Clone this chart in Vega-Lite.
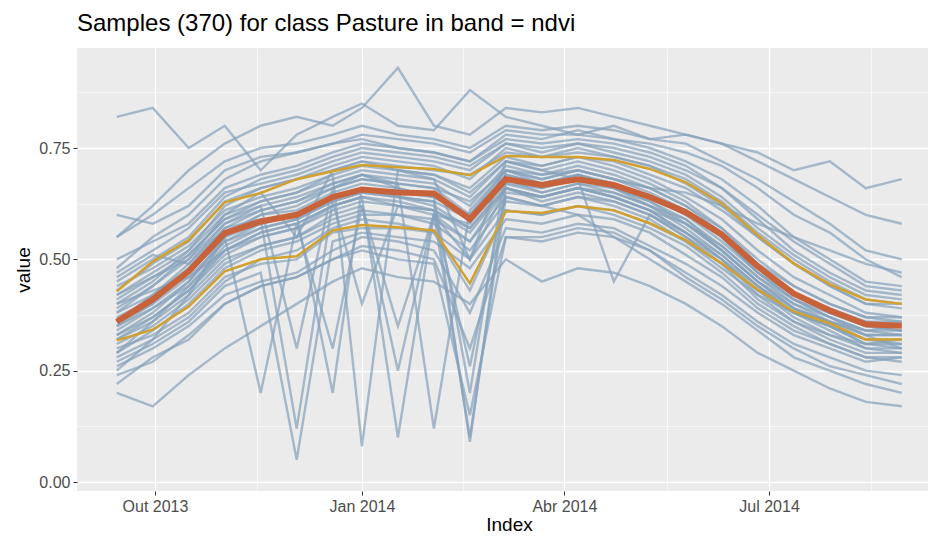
{
"$schema": "https://vega.github.io/schema/vega-lite/v6.json",
"width": 851, "height": 443,
"autosize": {"type": "none"},
"padding": {"left": 77, "top": 48, "right": 0, "bottom": 45},
"background": "white",
"title": {"text": "Samples (370) for class Pasture in band = ndvi", "anchor": "start", "frame": "group", "font": "Liberation Sans", "fontSize": 24, "fontWeight": "normal", "color": "black", "offset": 12},
"config": {
  "view": {"fill": "#EBEBEB", "stroke": null},
  "axis": {"labelFont": "Liberation Sans", "titleFont": "Liberation Sans", "labelColor": "#4D4D4D", "labelFontSize": 16, "tickColor": "#333333", "tickSize": 4, "tickWidth": 1, "gridColor": "white", "domain": false, "titleFontWeight": "normal", "titleColor": "black", "titleFontSize": 19, "labelPadding": 3}
},
"datasets": {
"stats": [
{"d":"2013-09-14","lo":0.318,"med":0.36,"hi":0.428},
{"d":"2013-09-30","lo":0.342,"med":0.41,"hi":0.495},
{"d":"2013-10-16","lo":0.394,"med":0.473,"hi":0.543},
{"d":"2013-11-01","lo":0.473,"med":0.559,"hi":0.628},
{"d":"2013-11-17","lo":0.5,"med":0.585,"hi":0.649},
{"d":"2013-12-03","lo":0.507,"med":0.6,"hi":0.68},
{"d":"2013-12-19","lo":0.565,"med":0.64,"hi":0.698},
{"d":"2014-01-01","lo":0.577,"med":0.657,"hi":0.712},
{"d":"2014-01-17","lo":0.572,"med":0.65,"hi":0.707},
{"d":"2014-02-02","lo":0.565,"med":0.648,"hi":0.703},
{"d":"2014-02-18","lo":0.446,"med":0.59,"hi":0.689},
{"d":"2014-03-06","lo":0.608,"med":0.68,"hi":0.732},
{"d":"2014-03-22","lo":0.604,"med":0.667,"hi":0.73},
{"d":"2014-04-07","lo":0.619,"med":0.68,"hi":0.73},
{"d":"2014-04-23","lo":0.61,"med":0.667,"hi":0.723},
{"d":"2014-05-09","lo":0.581,"med":0.64,"hi":0.703},
{"d":"2014-05-25","lo":0.543,"med":0.606,"hi":0.673},
{"d":"2014-06-10","lo":0.491,"med":0.556,"hi":0.626},
{"d":"2014-06-26","lo":0.432,"med":0.484,"hi":0.554},
{"d":"2014-07-12","lo":0.383,"med":0.423,"hi":0.491},
{"d":"2014-07-28","lo":0.356,"med":0.385,"hi":0.444},
{"d":"2014-08-13","lo":0.32,"med":0.354,"hi":0.41},
{"d":"2014-08-29","lo":0.32,"med":0.351,"hi":0.4}
],
"samples": [
{"s":1,"d":"2013-09-14","v":0.33},{"s":1,"d":"2013-09-30","v":0.38},{"s":1,"d":"2013-10-16","v":0.45},{"s":1,"d":"2013-11-01","v":0.55},{"s":1,"d":"2013-11-17","v":0.6},{"s":1,"d":"2013-12-03","v":0.62},{"s":1,"d":"2013-12-19","v":0.66},{"s":1,"d":"2014-01-01","v":0.68},{"s":1,"d":"2014-01-17","v":0.67},{"s":1,"d":"2014-02-02","v":0.66},{"s":1,"d":"2014-02-18","v":0.6},{"s":1,"d":"2014-03-06","v":0.7},{"s":1,"d":"2014-03-22","v":0.69},{"s":1,"d":"2014-04-07","v":0.7},{"s":1,"d":"2014-04-23","v":0.68},{"s":1,"d":"2014-05-09","v":0.66},{"s":1,"d":"2014-05-25","v":0.62},{"s":1,"d":"2014-06-10","v":0.57},{"s":1,"d":"2014-06-26","v":0.49},{"s":1,"d":"2014-07-12","v":0.42},{"s":1,"d":"2014-07-28","v":0.38},{"s":1,"d":"2014-08-13","v":0.35},{"s":1,"d":"2014-08-29","v":0.34},
{"s":2,"d":"2013-09-14","v":0.42},{"s":2,"d":"2013-09-30","v":0.47},{"s":2,"d":"2013-10-16","v":0.52},{"s":2,"d":"2013-11-01","v":0.62},{"s":2,"d":"2013-11-17","v":0.66},{"s":2,"d":"2013-12-03","v":0.68},{"s":2,"d":"2013-12-19","v":0.7},{"s":2,"d":"2014-01-01","v":0.72},{"s":2,"d":"2014-01-17","v":0.71},{"s":2,"d":"2014-02-02","v":0.7},{"s":2,"d":"2014-02-18","v":0.69},{"s":2,"d":"2014-03-06","v":0.74},{"s":2,"d":"2014-03-22","v":0.73},{"s":2,"d":"2014-04-07","v":0.74},{"s":2,"d":"2014-04-23","v":0.73},{"s":2,"d":"2014-05-09","v":0.71},{"s":2,"d":"2014-05-25","v":0.68},{"s":2,"d":"2014-06-10","v":0.63},{"s":2,"d":"2014-06-26","v":0.56},{"s":2,"d":"2014-07-12","v":0.5},{"s":2,"d":"2014-07-28","v":0.45},{"s":2,"d":"2014-08-13","v":0.41},{"s":2,"d":"2014-08-29","v":0.4},
{"s":3,"d":"2013-09-14","v":0.3},{"s":3,"d":"2013-09-30","v":0.33},{"s":3,"d":"2013-10-16","v":0.38},{"s":3,"d":"2013-11-01","v":0.46},{"s":3,"d":"2013-11-17","v":0.49},{"s":3,"d":"2013-12-03","v":0.5},{"s":3,"d":"2013-12-19","v":0.56},{"s":3,"d":"2014-01-01","v":0.57},{"s":3,"d":"2014-01-17","v":0.57},{"s":3,"d":"2014-02-02","v":0.56},{"s":3,"d":"2014-02-18","v":0.43},{"s":3,"d":"2014-03-06","v":0.61},{"s":3,"d":"2014-03-22","v":0.6},{"s":3,"d":"2014-04-07","v":0.62},{"s":3,"d":"2014-04-23","v":0.61},{"s":3,"d":"2014-05-09","v":0.58},{"s":3,"d":"2014-05-25","v":0.54},{"s":3,"d":"2014-06-10","v":0.49},{"s":3,"d":"2014-06-26","v":0.43},{"s":3,"d":"2014-07-12","v":0.38},{"s":3,"d":"2014-07-28","v":0.35},{"s":3,"d":"2014-08-13","v":0.31},{"s":3,"d":"2014-08-29","v":0.32},
{"s":4,"d":"2013-09-14","v":0.38},{"s":4,"d":"2013-09-30","v":0.44},{"s":4,"d":"2013-10-16","v":0.5},{"s":4,"d":"2013-11-01","v":0.58},{"s":4,"d":"2013-11-17","v":0.62},{"s":4,"d":"2013-12-03","v":0.3},{"s":4,"d":"2013-12-19","v":0.66},{"s":4,"d":"2014-01-01","v":0.69},{"s":4,"d":"2014-01-17","v":0.66},{"s":4,"d":"2014-02-02","v":0.64},{"s":4,"d":"2014-02-18","v":0.2},{"s":4,"d":"2014-03-06","v":0.7},{"s":4,"d":"2014-03-22","v":0.67},{"s":4,"d":"2014-04-07","v":0.69},{"s":4,"d":"2014-04-23","v":0.66},{"s":4,"d":"2014-05-09","v":0.64},{"s":4,"d":"2014-05-25","v":0.6},{"s":4,"d":"2014-06-10","v":0.55},{"s":4,"d":"2014-06-26","v":0.47},{"s":4,"d":"2014-07-12","v":0.41},{"s":4,"d":"2014-07-28","v":0.37},{"s":4,"d":"2014-08-13","v":0.33},{"s":4,"d":"2014-08-29","v":0.33},
{"s":5,"d":"2013-09-14","v":0.48},{"s":5,"d":"2013-09-30","v":0.55},{"s":5,"d":"2013-10-16","v":0.6},{"s":5,"d":"2013-11-01","v":0.68},{"s":5,"d":"2013-11-17","v":0.72},{"s":5,"d":"2013-12-03","v":0.74},{"s":5,"d":"2013-12-19","v":0.76},{"s":5,"d":"2014-01-01","v":0.77},{"s":5,"d":"2014-01-17","v":0.75},{"s":5,"d":"2014-02-02","v":0.74},{"s":5,"d":"2014-02-18","v":0.72},{"s":5,"d":"2014-03-06","v":0.78},{"s":5,"d":"2014-03-22","v":0.77},{"s":5,"d":"2014-04-07","v":0.79},{"s":5,"d":"2014-04-23","v":0.77},{"s":5,"d":"2014-05-09","v":0.75},{"s":5,"d":"2014-05-25","v":0.72},{"s":5,"d":"2014-06-10","v":0.68},{"s":5,"d":"2014-06-26","v":0.62},{"s":5,"d":"2014-07-12","v":0.55},{"s":5,"d":"2014-07-28","v":0.5},{"s":5,"d":"2014-08-13","v":0.45},{"s":5,"d":"2014-08-29","v":0.44},
{"s":6,"d":"2013-09-14","v":0.26},{"s":6,"d":"2013-09-30","v":0.3},{"s":6,"d":"2013-10-16","v":0.35},{"s":6,"d":"2013-11-01","v":0.42},{"s":6,"d":"2013-11-17","v":0.45},{"s":6,"d":"2013-12-03","v":0.47},{"s":6,"d":"2013-12-19","v":0.52},{"s":6,"d":"2014-01-01","v":0.55},{"s":6,"d":"2014-01-17","v":0.54},{"s":6,"d":"2014-02-02","v":0.52},{"s":6,"d":"2014-02-18","v":0.38},{"s":6,"d":"2014-03-06","v":0.57},{"s":6,"d":"2014-03-22","v":0.56},{"s":6,"d":"2014-04-07","v":0.58},{"s":6,"d":"2014-04-23","v":0.57},{"s":6,"d":"2014-05-09","v":0.53},{"s":6,"d":"2014-05-25","v":0.49},{"s":6,"d":"2014-06-10","v":0.44},{"s":6,"d":"2014-06-26","v":0.38},{"s":6,"d":"2014-07-12","v":0.33},{"s":6,"d":"2014-07-28","v":0.3},{"s":6,"d":"2014-08-13","v":0.27},{"s":6,"d":"2014-08-29","v":0.28},
{"s":7,"d":"2013-09-14","v":0.35},{"s":7,"d":"2013-09-30","v":0.4},{"s":7,"d":"2013-10-16","v":0.48},{"s":7,"d":"2013-11-01","v":0.57},{"s":7,"d":"2013-11-17","v":0.59},{"s":7,"d":"2013-12-03","v":0.12},{"s":7,"d":"2013-12-19","v":0.63},{"s":7,"d":"2014-01-01","v":0.4},{"s":7,"d":"2014-01-17","v":0.62},{"s":7,"d":"2014-02-02","v":0.6},{"s":7,"d":"2014-02-18","v":0.58},{"s":7,"d":"2014-03-06","v":0.68},{"s":7,"d":"2014-03-22","v":0.65},{"s":7,"d":"2014-04-07","v":0.67},{"s":7,"d":"2014-04-23","v":0.66},{"s":7,"d":"2014-05-09","v":0.62},{"s":7,"d":"2014-05-25","v":0.59},{"s":7,"d":"2014-06-10","v":0.52},{"s":7,"d":"2014-06-26","v":0.45},{"s":7,"d":"2014-07-12","v":0.4},{"s":7,"d":"2014-07-28","v":0.36},{"s":7,"d":"2014-08-13","v":0.33},{"s":7,"d":"2014-08-29","v":0.3},
{"s":8,"d":"2013-09-14","v":0.55},{"s":8,"d":"2013-09-30","v":0.6},{"s":8,"d":"2013-10-16","v":0.66},{"s":8,"d":"2013-11-01","v":0.72},{"s":8,"d":"2013-11-17","v":0.75},{"s":8,"d":"2013-12-03","v":0.76},{"s":8,"d":"2013-12-19","v":0.78},{"s":8,"d":"2014-01-01","v":0.8},{"s":8,"d":"2014-01-17","v":0.78},{"s":8,"d":"2014-02-02","v":0.77},{"s":8,"d":"2014-02-18","v":0.75},{"s":8,"d":"2014-03-06","v":0.8},{"s":8,"d":"2014-03-22","v":0.79},{"s":8,"d":"2014-04-07","v":0.8},{"s":8,"d":"2014-04-23","v":0.79},{"s":8,"d":"2014-05-09","v":0.77},{"s":8,"d":"2014-05-25","v":0.76},{"s":8,"d":"2014-06-10","v":0.72},{"s":8,"d":"2014-06-26","v":0.68},{"s":8,"d":"2014-07-12","v":0.63},{"s":8,"d":"2014-07-28","v":0.58},{"s":8,"d":"2014-08-13","v":0.52},{"s":8,"d":"2014-08-29","v":0.5},
{"s":9,"d":"2013-09-14","v":0.22},{"s":9,"d":"2013-09-30","v":0.28},{"s":9,"d":"2013-10-16","v":0.32},{"s":9,"d":"2013-11-01","v":0.4},{"s":9,"d":"2013-11-17","v":0.44},{"s":9,"d":"2013-12-03","v":0.46},{"s":9,"d":"2013-12-19","v":0.5},{"s":9,"d":"2014-01-01","v":0.52},{"s":9,"d":"2014-01-17","v":0.5},{"s":9,"d":"2014-02-02","v":0.49},{"s":9,"d":"2014-02-18","v":0.15},{"s":9,"d":"2014-03-06","v":0.55},{"s":9,"d":"2014-03-22","v":0.54},{"s":9,"d":"2014-04-07","v":0.56},{"s":9,"d":"2014-04-23","v":0.55},{"s":9,"d":"2014-05-09","v":0.52},{"s":9,"d":"2014-05-25","v":0.46},{"s":9,"d":"2014-06-10","v":0.41},{"s":9,"d":"2014-06-26","v":0.35},{"s":9,"d":"2014-07-12","v":0.3},{"s":9,"d":"2014-07-28","v":0.26},{"s":9,"d":"2014-08-13","v":0.24},{"s":9,"d":"2014-08-29","v":0.22},
{"s":10,"d":"2013-09-14","v":0.4},{"s":10,"d":"2013-09-30","v":0.43},{"s":10,"d":"2013-10-16","v":0.46},{"s":10,"d":"2013-11-01","v":0.52},{"s":10,"d":"2013-11-17","v":0.56},{"s":10,"d":"2013-12-03","v":0.58},{"s":10,"d":"2013-12-19","v":0.62},{"s":10,"d":"2014-01-01","v":0.64},{"s":10,"d":"2014-01-17","v":0.62},{"s":10,"d":"2014-02-02","v":0.61},{"s":10,"d":"2014-02-18","v":0.57},{"s":10,"d":"2014-03-06","v":0.66},{"s":10,"d":"2014-03-22","v":0.64},{"s":10,"d":"2014-04-07","v":0.66},{"s":10,"d":"2014-04-23","v":0.64},{"s":10,"d":"2014-05-09","v":0.61},{"s":10,"d":"2014-05-25","v":0.58},{"s":10,"d":"2014-06-10","v":0.53},{"s":10,"d":"2014-06-26","v":0.46},{"s":10,"d":"2014-07-12","v":0.4},{"s":10,"d":"2014-07-28","v":0.37},{"s":10,"d":"2014-08-13","v":0.34},{"s":10,"d":"2014-08-29","v":0.35},
{"s":11,"d":"2013-09-14","v":0.32},{"s":11,"d":"2013-09-30","v":0.36},{"s":11,"d":"2013-10-16","v":0.42},{"s":11,"d":"2013-11-01","v":0.5},{"s":11,"d":"2013-11-17","v":0.53},{"s":11,"d":"2013-12-03","v":0.55},{"s":11,"d":"2013-12-19","v":0.6},{"s":11,"d":"2014-01-01","v":0.62},{"s":11,"d":"2014-01-17","v":0.35},{"s":11,"d":"2014-02-02","v":0.6},{"s":11,"d":"2014-02-18","v":0.5},{"s":11,"d":"2014-03-06","v":0.66},{"s":11,"d":"2014-03-22","v":0.64},{"s":11,"d":"2014-04-07","v":0.66},{"s":11,"d":"2014-04-23","v":0.65},{"s":11,"d":"2014-05-09","v":0.62},{"s":11,"d":"2014-05-25","v":0.57},{"s":11,"d":"2014-06-10","v":0.51},{"s":11,"d":"2014-06-26","v":0.44},{"s":11,"d":"2014-07-12","v":0.38},{"s":11,"d":"2014-07-28","v":0.34},{"s":11,"d":"2014-08-13","v":0.3},{"s":11,"d":"2014-08-29","v":0.29},
{"s":12,"d":"2013-09-14","v":0.45},{"s":12,"d":"2013-09-30","v":0.5},{"s":12,"d":"2013-10-16","v":0.55},{"s":12,"d":"2013-11-01","v":0.64},{"s":12,"d":"2013-11-17","v":0.68},{"s":12,"d":"2013-12-03","v":0.7},{"s":12,"d":"2013-12-19","v":0.73},{"s":12,"d":"2014-01-01","v":0.75},{"s":12,"d":"2014-01-17","v":0.74},{"s":12,"d":"2014-02-02","v":0.73},{"s":12,"d":"2014-02-18","v":0.71},{"s":12,"d":"2014-03-06","v":0.76},{"s":12,"d":"2014-03-22","v":0.75},{"s":12,"d":"2014-04-07","v":0.76},{"s":12,"d":"2014-04-23","v":0.75},{"s":12,"d":"2014-05-09","v":0.73},{"s":12,"d":"2014-05-25","v":0.7},{"s":12,"d":"2014-06-10","v":0.66},{"s":12,"d":"2014-06-26","v":0.6},{"s":12,"d":"2014-07-12","v":0.54},{"s":12,"d":"2014-07-28","v":0.49},{"s":12,"d":"2014-08-13","v":0.44},{"s":12,"d":"2014-08-29","v":0.43},
{"s":13,"d":"2013-09-14","v":0.37},{"s":13,"d":"2013-09-30","v":0.41},{"s":13,"d":"2013-10-16","v":0.47},{"s":13,"d":"2013-11-01","v":0.55},{"s":13,"d":"2013-11-17","v":0.58},{"s":13,"d":"2013-12-03","v":0.6},{"s":13,"d":"2013-12-19","v":0.2},{"s":13,"d":"2014-01-01","v":0.66},{"s":13,"d":"2014-01-17","v":0.64},{"s":13,"d":"2014-02-02","v":0.63},{"s":13,"d":"2014-02-18","v":0.59},{"s":13,"d":"2014-03-06","v":0.69},{"s":13,"d":"2014-03-22","v":0.67},{"s":13,"d":"2014-04-07","v":0.69},{"s":13,"d":"2014-04-23","v":0.67},{"s":13,"d":"2014-05-09","v":0.64},{"s":13,"d":"2014-05-25","v":0.6},{"s":13,"d":"2014-06-10","v":0.54},{"s":13,"d":"2014-06-26","v":0.47},{"s":13,"d":"2014-07-12","v":0.42},{"s":13,"d":"2014-07-28","v":0.38},{"s":13,"d":"2014-08-13","v":0.36},{"s":13,"d":"2014-08-29","v":0.36},
{"s":14,"d":"2013-09-14","v":0.29},{"s":14,"d":"2013-09-30","v":0.34},{"s":14,"d":"2013-10-16","v":0.4},{"s":14,"d":"2013-11-01","v":0.48},{"s":14,"d":"2013-11-17","v":0.52},{"s":14,"d":"2013-12-03","v":0.54},{"s":14,"d":"2013-12-19","v":0.58},{"s":14,"d":"2014-01-01","v":0.6},{"s":14,"d":"2014-01-17","v":0.6},{"s":14,"d":"2014-02-02","v":0.58},{"s":14,"d":"2014-02-18","v":0.52},{"s":14,"d":"2014-03-06","v":0.63},{"s":14,"d":"2014-03-22","v":0.62},{"s":14,"d":"2014-04-07","v":0.64},{"s":14,"d":"2014-04-23","v":0.63},{"s":14,"d":"2014-05-09","v":0.6},{"s":14,"d":"2014-05-25","v":0.55},{"s":14,"d":"2014-06-10","v":0.49},{"s":14,"d":"2014-06-26","v":0.41},{"s":14,"d":"2014-07-12","v":0.36},{"s":14,"d":"2014-07-28","v":0.32},{"s":14,"d":"2014-08-13","v":0.29},{"s":14,"d":"2014-08-29","v":0.29},
{"s":15,"d":"2013-09-14","v":0.6},{"s":15,"d":"2013-09-30","v":0.58},{"s":15,"d":"2013-10-16","v":0.62},{"s":15,"d":"2013-11-01","v":0.7},{"s":15,"d":"2013-11-17","v":0.73},{"s":15,"d":"2013-12-03","v":0.74},{"s":15,"d":"2013-12-19","v":0.76},{"s":15,"d":"2014-01-01","v":0.78},{"s":15,"d":"2014-01-17","v":0.77},{"s":15,"d":"2014-02-02","v":0.76},{"s":15,"d":"2014-02-18","v":0.74},{"s":15,"d":"2014-03-06","v":0.79},{"s":15,"d":"2014-03-22","v":0.78},{"s":15,"d":"2014-04-07","v":0.78},{"s":15,"d":"2014-04-23","v":0.77},{"s":15,"d":"2014-05-09","v":0.76},{"s":15,"d":"2014-05-25","v":0.74},{"s":15,"d":"2014-06-10","v":0.71},{"s":15,"d":"2014-06-26","v":0.66},{"s":15,"d":"2014-07-12","v":0.6},{"s":15,"d":"2014-07-28","v":0.56},{"s":15,"d":"2014-08-13","v":0.5},{"s":15,"d":"2014-08-29","v":0.46},
{"s":16,"d":"2013-09-14","v":0.34},{"s":16,"d":"2013-09-30","v":0.39},{"s":16,"d":"2013-10-16","v":0.44},{"s":16,"d":"2013-11-01","v":0.53},{"s":16,"d":"2013-11-17","v":0.57},{"s":16,"d":"2013-12-03","v":0.59},{"s":16,"d":"2013-12-19","v":0.63},{"s":16,"d":"2014-01-01","v":0.65},{"s":16,"d":"2014-01-17","v":0.64},{"s":16,"d":"2014-02-02","v":0.63},{"s":16,"d":"2014-02-18","v":0.09},{"s":16,"d":"2014-03-06","v":0.67},{"s":16,"d":"2014-03-22","v":0.66},{"s":16,"d":"2014-04-07","v":0.68},{"s":16,"d":"2014-04-23","v":0.66},{"s":16,"d":"2014-05-09","v":0.63},{"s":16,"d":"2014-05-25","v":0.58},{"s":16,"d":"2014-06-10","v":0.52},{"s":16,"d":"2014-06-26","v":0.45},{"s":16,"d":"2014-07-12","v":0.39},{"s":16,"d":"2014-07-28","v":0.36},{"s":16,"d":"2014-08-13","v":0.34},{"s":16,"d":"2014-08-29","v":0.33},
{"s":17,"d":"2013-09-14","v":0.41},{"s":17,"d":"2013-09-30","v":0.46},{"s":17,"d":"2013-10-16","v":0.5},{"s":17,"d":"2013-11-01","v":0.6},{"s":17,"d":"2013-11-17","v":0.63},{"s":17,"d":"2013-12-03","v":0.65},{"s":17,"d":"2013-12-19","v":0.68},{"s":17,"d":"2014-01-01","v":0.7},{"s":17,"d":"2014-01-17","v":0.69},{"s":17,"d":"2014-02-02","v":0.68},{"s":17,"d":"2014-02-18","v":0.64},{"s":17,"d":"2014-03-06","v":0.72},{"s":17,"d":"2014-03-22","v":0.71},{"s":17,"d":"2014-04-07","v":0.73},{"s":17,"d":"2014-04-23","v":0.71},{"s":17,"d":"2014-05-09","v":0.68},{"s":17,"d":"2014-05-25","v":0.64},{"s":17,"d":"2014-06-10","v":0.59},{"s":17,"d":"2014-06-26","v":0.52},{"s":17,"d":"2014-07-12","v":0.46},{"s":17,"d":"2014-07-28","v":0.42},{"s":17,"d":"2014-08-13","v":0.38},{"s":17,"d":"2014-08-29","v":0.37},
{"s":18,"d":"2013-09-14","v":0.27},{"s":18,"d":"2013-09-30","v":0.31},{"s":18,"d":"2013-10-16","v":0.36},{"s":18,"d":"2013-11-01","v":0.44},{"s":18,"d":"2013-11-17","v":0.47},{"s":18,"d":"2013-12-03","v":0.05},{"s":18,"d":"2013-12-19","v":0.54},{"s":18,"d":"2014-01-01","v":0.56},{"s":18,"d":"2014-01-17","v":0.55},{"s":18,"d":"2014-02-02","v":0.54},{"s":18,"d":"2014-02-18","v":0.48},{"s":18,"d":"2014-03-06","v":0.59},{"s":18,"d":"2014-03-22","v":0.58},{"s":18,"d":"2014-04-07","v":0.6},{"s":18,"d":"2014-04-23","v":0.59},{"s":18,"d":"2014-05-09","v":0.56},{"s":18,"d":"2014-05-25","v":0.51},{"s":18,"d":"2014-06-10","v":0.46},{"s":18,"d":"2014-06-26","v":0.39},{"s":18,"d":"2014-07-12","v":0.34},{"s":18,"d":"2014-07-28","v":0.31},{"s":18,"d":"2014-08-13","v":0.28},{"s":18,"d":"2014-08-29","v":0.27},
{"s":19,"d":"2013-09-14","v":0.39},{"s":19,"d":"2013-09-30","v":0.44},{"s":19,"d":"2013-10-16","v":0.51},{"s":19,"d":"2013-11-01","v":0.59},{"s":19,"d":"2013-11-17","v":0.62},{"s":19,"d":"2013-12-03","v":0.64},{"s":19,"d":"2013-12-19","v":0.67},{"s":19,"d":"2014-01-01","v":0.69},{"s":19,"d":"2014-01-17","v":0.68},{"s":19,"d":"2014-02-02","v":0.67},{"s":19,"d":"2014-02-18","v":0.62},{"s":19,"d":"2014-03-06","v":0.71},{"s":19,"d":"2014-03-22","v":0.69},{"s":19,"d":"2014-04-07","v":0.71},{"s":19,"d":"2014-04-23","v":0.69},{"s":19,"d":"2014-05-09","v":0.66},{"s":19,"d":"2014-05-25","v":0.62},{"s":19,"d":"2014-06-10","v":0.56},{"s":19,"d":"2014-06-26","v":0.49},{"s":19,"d":"2014-07-12","v":0.44},{"s":19,"d":"2014-07-28","v":0.4},{"s":19,"d":"2014-08-13","v":0.37},{"s":19,"d":"2014-08-29","v":0.36},
{"s":20,"d":"2013-09-14","v":0.33},{"s":20,"d":"2013-09-30","v":0.37},{"s":20,"d":"2013-10-16","v":0.43},{"s":20,"d":"2013-11-01","v":0.52},{"s":20,"d":"2013-11-17","v":0.55},{"s":20,"d":"2013-12-03","v":0.57},{"s":20,"d":"2013-12-19","v":0.61},{"s":20,"d":"2014-01-01","v":0.63},{"s":20,"d":"2014-01-17","v":0.62},{"s":20,"d":"2014-02-02","v":0.61},{"s":20,"d":"2014-02-18","v":0.56},{"s":20,"d":"2014-03-06","v":0.66},{"s":20,"d":"2014-03-22","v":0.64},{"s":20,"d":"2014-04-07","v":0.66},{"s":20,"d":"2014-04-23","v":0.64},{"s":20,"d":"2014-05-09","v":0.61},{"s":20,"d":"2014-05-25","v":0.56},{"s":20,"d":"2014-06-10","v":0.5},{"s":20,"d":"2014-06-26","v":0.43},{"s":20,"d":"2014-07-12","v":0.37},{"s":20,"d":"2014-07-28","v":0.33},{"s":20,"d":"2014-08-13","v":0.31},{"s":20,"d":"2014-08-29","v":0.31},
{"s":21,"d":"2013-09-14","v":0.5},{"s":21,"d":"2013-09-30","v":0.54},{"s":21,"d":"2013-10-16","v":0.58},{"s":21,"d":"2013-11-01","v":0.66},{"s":21,"d":"2013-11-17","v":0.69},{"s":21,"d":"2013-12-03","v":0.71},{"s":21,"d":"2013-12-19","v":0.74},{"s":21,"d":"2014-01-01","v":0.76},{"s":21,"d":"2014-01-17","v":0.75},{"s":21,"d":"2014-02-02","v":0.74},{"s":21,"d":"2014-02-18","v":0.72},{"s":21,"d":"2014-03-06","v":0.77},{"s":21,"d":"2014-03-22","v":0.76},{"s":21,"d":"2014-04-07","v":0.77},{"s":21,"d":"2014-04-23","v":0.76},{"s":21,"d":"2014-05-09","v":0.74},{"s":21,"d":"2014-05-25","v":0.71},{"s":21,"d":"2014-06-10","v":0.66},{"s":21,"d":"2014-06-26","v":0.59},{"s":21,"d":"2014-07-12","v":0.52},{"s":21,"d":"2014-07-28","v":0.47},{"s":21,"d":"2014-08-13","v":0.43},{"s":21,"d":"2014-08-29","v":0.42},
{"s":22,"d":"2013-09-14","v":0.24},{"s":22,"d":"2013-09-30","v":0.27},{"s":22,"d":"2013-10-16","v":0.33},{"s":22,"d":"2013-11-01","v":0.4},{"s":22,"d":"2013-11-17","v":0.44},{"s":22,"d":"2013-12-03","v":0.46},{"s":22,"d":"2013-12-19","v":0.5},{"s":22,"d":"2014-01-01","v":0.53},{"s":22,"d":"2014-01-17","v":0.52},{"s":22,"d":"2014-02-02","v":0.5},{"s":22,"d":"2014-02-18","v":0.3},{"s":22,"d":"2014-03-06","v":0.55},{"s":22,"d":"2014-03-22","v":0.55},{"s":22,"d":"2014-04-07","v":0.57},{"s":22,"d":"2014-04-23","v":0.56},{"s":22,"d":"2014-05-09","v":0.52},{"s":22,"d":"2014-05-25","v":0.47},{"s":22,"d":"2014-06-10","v":0.42},{"s":22,"d":"2014-06-26","v":0.36},{"s":22,"d":"2014-07-12","v":0.31},{"s":22,"d":"2014-07-28","v":0.28},{"s":22,"d":"2014-08-13","v":0.25},{"s":22,"d":"2014-08-29","v":0.24},
{"s":23,"d":"2013-09-14","v":0.36},{"s":23,"d":"2013-09-30","v":0.42},{"s":23,"d":"2013-10-16","v":0.48},{"s":23,"d":"2013-11-01","v":0.56},{"s":23,"d":"2013-11-17","v":0.6},{"s":23,"d":"2013-12-03","v":0.61},{"s":23,"d":"2013-12-19","v":0.65},{"s":23,"d":"2014-01-01","v":0.67},{"s":23,"d":"2014-01-17","v":0.66},{"s":23,"d":"2014-02-02","v":0.64},{"s":23,"d":"2014-02-18","v":0.6},{"s":23,"d":"2014-03-06","v":0.69},{"s":23,"d":"2014-03-22","v":0.67},{"s":23,"d":"2014-04-07","v":0.69},{"s":23,"d":"2014-04-23","v":0.67},{"s":23,"d":"2014-05-09","v":0.64},{"s":23,"d":"2014-05-25","v":0.61},{"s":23,"d":"2014-06-10","v":0.55},{"s":23,"d":"2014-06-26","v":0.48},{"s":23,"d":"2014-07-12","v":0.42},{"s":23,"d":"2014-07-28","v":0.39},{"s":23,"d":"2014-08-13","v":0.36},{"s":23,"d":"2014-08-29","v":0.35},
{"s":24,"d":"2013-09-14","v":0.44},{"s":24,"d":"2013-09-30","v":0.48},{"s":24,"d":"2013-10-16","v":0.53},{"s":24,"d":"2013-11-01","v":0.61},{"s":24,"d":"2013-11-17","v":0.64},{"s":24,"d":"2013-12-03","v":0.66},{"s":24,"d":"2013-12-19","v":0.69},{"s":24,"d":"2014-01-01","v":0.08},{"s":24,"d":"2014-01-17","v":0.7},{"s":24,"d":"2014-02-02","v":0.69},{"s":24,"d":"2014-02-18","v":0.66},{"s":24,"d":"2014-03-06","v":0.73},{"s":24,"d":"2014-03-22","v":0.71},{"s":24,"d":"2014-04-07","v":0.73},{"s":24,"d":"2014-04-23","v":0.72},{"s":24,"d":"2014-05-09","v":0.69},{"s":24,"d":"2014-05-25","v":0.66},{"s":24,"d":"2014-06-10","v":0.61},{"s":24,"d":"2014-06-26","v":0.55},{"s":24,"d":"2014-07-12","v":0.49},{"s":24,"d":"2014-07-28","v":0.44},{"s":24,"d":"2014-08-13","v":0.4},{"s":24,"d":"2014-08-29","v":0.39},
{"s":25,"d":"2013-09-14","v":0.31},{"s":25,"d":"2013-09-30","v":0.35},{"s":25,"d":"2013-10-16","v":0.41},{"s":25,"d":"2013-11-01","v":0.49},{"s":25,"d":"2013-11-17","v":0.53},{"s":25,"d":"2013-12-03","v":0.55},{"s":25,"d":"2013-12-19","v":0.59},{"s":25,"d":"2014-01-01","v":0.61},{"s":25,"d":"2014-01-17","v":0.6},{"s":25,"d":"2014-02-02","v":0.59},{"s":25,"d":"2014-02-18","v":0.54},{"s":25,"d":"2014-03-06","v":0.64},{"s":25,"d":"2014-03-22","v":0.62},{"s":25,"d":"2014-04-07","v":0.64},{"s":25,"d":"2014-04-23","v":0.62},{"s":25,"d":"2014-05-09","v":0.59},{"s":25,"d":"2014-05-25","v":0.54},{"s":25,"d":"2014-06-10","v":0.48},{"s":25,"d":"2014-06-26","v":0.42},{"s":25,"d":"2014-07-12","v":0.36},{"s":25,"d":"2014-07-28","v":0.33},{"s":25,"d":"2014-08-13","v":0.3},{"s":25,"d":"2014-08-29","v":0.3},
{"s":26,"d":"2013-09-14","v":0.46},{"s":26,"d":"2013-09-30","v":0.51},{"s":26,"d":"2013-10-16","v":0.49},{"s":26,"d":"2013-11-01","v":0.57},{"s":26,"d":"2013-11-17","v":0.61},{"s":26,"d":"2013-12-03","v":0.63},{"s":26,"d":"2013-12-19","v":0.67},{"s":26,"d":"2014-01-01","v":0.69},{"s":26,"d":"2014-01-17","v":0.67},{"s":26,"d":"2014-02-02","v":0.66},{"s":26,"d":"2014-02-18","v":0.63},{"s":26,"d":"2014-03-06","v":0.7},{"s":26,"d":"2014-03-22","v":0.68},{"s":26,"d":"2014-04-07","v":0.7},{"s":26,"d":"2014-04-23","v":0.68},{"s":26,"d":"2014-05-09","v":0.66},{"s":26,"d":"2014-05-25","v":0.65},{"s":26,"d":"2014-06-10","v":0.62},{"s":26,"d":"2014-06-26","v":0.58},{"s":26,"d":"2014-07-12","v":0.55},{"s":26,"d":"2014-07-28","v":0.52},{"s":26,"d":"2014-08-13","v":0.49},{"s":26,"d":"2014-08-29","v":0.47},
{"s":27,"d":"2013-09-14","v":0.28},{"s":27,"d":"2013-09-30","v":0.32},{"s":27,"d":"2013-10-16","v":0.37},{"s":27,"d":"2013-11-01","v":0.45},{"s":27,"d":"2013-11-17","v":0.5},{"s":27,"d":"2013-12-03","v":0.52},{"s":27,"d":"2013-12-19","v":0.57},{"s":27,"d":"2014-01-01","v":0.59},{"s":27,"d":"2014-01-17","v":0.58},{"s":27,"d":"2014-02-02","v":0.56},{"s":27,"d":"2014-02-18","v":0.5},{"s":27,"d":"2014-03-06","v":0.61},{"s":27,"d":"2014-03-22","v":0.6},{"s":27,"d":"2014-04-07","v":0.62},{"s":27,"d":"2014-04-23","v":0.6},{"s":27,"d":"2014-05-09","v":0.57},{"s":27,"d":"2014-05-25","v":0.53},{"s":27,"d":"2014-06-10","v":0.47},{"s":27,"d":"2014-06-26","v":0.4},{"s":27,"d":"2014-07-12","v":0.35},{"s":27,"d":"2014-07-28","v":0.31},{"s":27,"d":"2014-08-13","v":0.28},{"s":27,"d":"2014-08-29","v":0.28},
{"s":28,"d":"2013-09-14","v":0.38},{"s":28,"d":"2013-09-30","v":0.42},{"s":28,"d":"2013-10-16","v":0.49},{"s":28,"d":"2013-11-01","v":0.58},{"s":28,"d":"2013-11-17","v":0.61},{"s":28,"d":"2013-12-03","v":0.63},{"s":28,"d":"2013-12-19","v":0.66},{"s":28,"d":"2014-01-01","v":0.68},{"s":28,"d":"2014-01-17","v":0.67},{"s":28,"d":"2014-02-02","v":0.12},{"s":28,"d":"2014-02-18","v":0.61},{"s":28,"d":"2014-03-06","v":0.7},{"s":28,"d":"2014-03-22","v":0.68},{"s":28,"d":"2014-04-07","v":0.7},{"s":28,"d":"2014-04-23","v":0.68},{"s":28,"d":"2014-05-09","v":0.65},{"s":28,"d":"2014-05-25","v":0.61},{"s":28,"d":"2014-06-10","v":0.55},{"s":28,"d":"2014-06-26","v":0.47},{"s":28,"d":"2014-07-12","v":0.41},{"s":28,"d":"2014-07-28","v":0.38},{"s":28,"d":"2014-08-13","v":0.35},{"s":28,"d":"2014-08-29","v":0.34},
{"s":29,"d":"2013-09-14","v":0.43},{"s":29,"d":"2013-09-30","v":0.49},{"s":29,"d":"2013-10-16","v":0.54},{"s":29,"d":"2013-11-01","v":0.63},{"s":29,"d":"2013-11-17","v":0.66},{"s":29,"d":"2013-12-03","v":0.68},{"s":29,"d":"2013-12-19","v":0.71},{"s":29,"d":"2014-01-01","v":0.73},{"s":29,"d":"2014-01-17","v":0.72},{"s":29,"d":"2014-02-02","v":0.71},{"s":29,"d":"2014-02-18","v":0.68},{"s":29,"d":"2014-03-06","v":0.75},{"s":29,"d":"2014-03-22","v":0.73},{"s":29,"d":"2014-04-07","v":0.75},{"s":29,"d":"2014-04-23","v":0.73},{"s":29,"d":"2014-05-09","v":0.71},{"s":29,"d":"2014-05-25","v":0.67},{"s":29,"d":"2014-06-10","v":0.62},{"s":29,"d":"2014-06-26","v":0.55},{"s":29,"d":"2014-07-12","v":0.49},{"s":29,"d":"2014-07-28","v":0.44},{"s":29,"d":"2014-08-13","v":0.4},{"s":29,"d":"2014-08-29","v":0.4},
{"s":30,"d":"2013-09-14","v":0.35},{"s":30,"d":"2013-09-30","v":0.39},{"s":30,"d":"2013-10-16","v":0.45},{"s":30,"d":"2013-11-01","v":0.54},{"s":30,"d":"2013-11-17","v":0.57},{"s":30,"d":"2013-12-03","v":0.59},{"s":30,"d":"2013-12-19","v":0.63},{"s":30,"d":"2014-01-01","v":0.65},{"s":30,"d":"2014-01-17","v":0.64},{"s":30,"d":"2014-02-02","v":0.62},{"s":30,"d":"2014-02-18","v":0.57},{"s":30,"d":"2014-03-06","v":0.67},{"s":30,"d":"2014-03-22","v":0.65},{"s":30,"d":"2014-04-07","v":0.67},{"s":30,"d":"2014-04-23","v":0.65},{"s":30,"d":"2014-05-09","v":0.62},{"s":30,"d":"2014-05-25","v":0.58},{"s":30,"d":"2014-06-10","v":0.52},{"s":30,"d":"2014-06-26","v":0.45},{"s":30,"d":"2014-07-12","v":0.39},{"s":30,"d":"2014-07-28","v":0.36},{"s":30,"d":"2014-08-13","v":0.33},{"s":30,"d":"2014-08-29","v":0.33},
{"s":31,"d":"2013-09-14","v":0.82},{"s":31,"d":"2013-09-30","v":0.84},{"s":31,"d":"2013-10-16","v":0.75},{"s":31,"d":"2013-11-01","v":0.8},{"s":31,"d":"2013-11-17","v":0.7},{"s":31,"d":"2013-12-03","v":0.78},{"s":31,"d":"2013-12-19","v":0.82},{"s":31,"d":"2014-01-01","v":0.85},{"s":31,"d":"2014-01-17","v":0.8},{"s":31,"d":"2014-02-02","v":0.79},{"s":31,"d":"2014-02-18","v":0.88},{"s":31,"d":"2014-03-06","v":0.82},{"s":31,"d":"2014-03-22","v":0.8},{"s":31,"d":"2014-04-07","v":0.78},{"s":31,"d":"2014-04-23","v":0.8},{"s":31,"d":"2014-05-09","v":0.77},{"s":31,"d":"2014-05-25","v":0.78},{"s":31,"d":"2014-06-10","v":0.76},{"s":31,"d":"2014-06-26","v":0.74},{"s":31,"d":"2014-07-12","v":0.7},{"s":31,"d":"2014-07-28","v":0.72},{"s":31,"d":"2014-08-13","v":0.66},{"s":31,"d":"2014-08-29","v":0.68},
{"s":32,"d":"2013-09-14","v":0.2},{"s":32,"d":"2013-09-30","v":0.17},{"s":32,"d":"2013-10-16","v":0.24},{"s":32,"d":"2013-11-01","v":0.3},{"s":32,"d":"2013-11-17","v":0.35},{"s":32,"d":"2013-12-03","v":0.4},{"s":32,"d":"2013-12-19","v":0.45},{"s":32,"d":"2014-01-01","v":0.48},{"s":32,"d":"2014-01-17","v":0.46},{"s":32,"d":"2014-02-02","v":0.45},{"s":32,"d":"2014-02-18","v":0.4},{"s":32,"d":"2014-03-06","v":0.5},{"s":32,"d":"2014-03-22","v":0.45},{"s":32,"d":"2014-04-07","v":0.48},{"s":32,"d":"2014-04-23","v":0.47},{"s":32,"d":"2014-05-09","v":0.44},{"s":32,"d":"2014-05-25","v":0.4},{"s":32,"d":"2014-06-10","v":0.35},{"s":32,"d":"2014-06-26","v":0.29},{"s":32,"d":"2014-07-12","v":0.25},{"s":32,"d":"2014-07-28","v":0.21},{"s":32,"d":"2014-08-13","v":0.18},{"s":32,"d":"2014-08-29","v":0.17},
{"s":33,"d":"2013-09-14","v":0.55},{"s":33,"d":"2013-09-30","v":0.62},{"s":33,"d":"2013-10-16","v":0.7},{"s":33,"d":"2013-11-01","v":0.76},{"s":33,"d":"2013-11-17","v":0.8},{"s":33,"d":"2013-12-03","v":0.82},{"s":33,"d":"2013-12-19","v":0.8},{"s":33,"d":"2014-01-01","v":0.84},{"s":33,"d":"2014-01-17","v":0.93},{"s":33,"d":"2014-02-02","v":0.8},{"s":33,"d":"2014-02-18","v":0.78},{"s":33,"d":"2014-03-06","v":0.84},{"s":33,"d":"2014-03-22","v":0.83},{"s":33,"d":"2014-04-07","v":0.84},{"s":33,"d":"2014-04-23","v":0.82},{"s":33,"d":"2014-05-09","v":0.8},{"s":33,"d":"2014-05-25","v":0.78},{"s":33,"d":"2014-06-10","v":0.76},{"s":33,"d":"2014-06-26","v":0.72},{"s":33,"d":"2014-07-12","v":0.68},{"s":33,"d":"2014-07-28","v":0.64},{"s":33,"d":"2014-08-13","v":0.6},{"s":33,"d":"2014-08-29","v":0.58},
{"s":34,"d":"2013-09-14","v":0.25},{"s":34,"d":"2013-09-30","v":0.32},{"s":34,"d":"2013-10-16","v":0.42},{"s":34,"d":"2013-11-01","v":0.55},{"s":34,"d":"2013-11-17","v":0.2},{"s":34,"d":"2013-12-03","v":0.58},{"s":34,"d":"2013-12-19","v":0.3},{"s":34,"d":"2014-01-01","v":0.62},{"s":34,"d":"2014-01-17","v":0.25},{"s":34,"d":"2014-02-02","v":0.6},{"s":34,"d":"2014-02-18","v":0.1},{"s":34,"d":"2014-03-06","v":0.64},{"s":34,"d":"2014-03-22","v":0.62},{"s":34,"d":"2014-04-07","v":0.6},{"s":34,"d":"2014-04-23","v":0.55},{"s":34,"d":"2014-05-09","v":0.5},{"s":34,"d":"2014-05-25","v":0.45},{"s":34,"d":"2014-06-10","v":0.4},{"s":34,"d":"2014-06-26","v":0.34},{"s":34,"d":"2014-07-12","v":0.28},{"s":34,"d":"2014-07-28","v":0.25},{"s":34,"d":"2014-08-13","v":0.22},{"s":34,"d":"2014-08-29","v":0.2},
{"s":35,"d":"2013-09-14","v":0.4},{"s":35,"d":"2013-09-30","v":0.45},{"s":35,"d":"2013-10-16","v":0.52},{"s":35,"d":"2013-11-01","v":0.6},{"s":35,"d":"2013-11-17","v":0.65},{"s":35,"d":"2013-12-03","v":0.55},{"s":35,"d":"2013-12-19","v":0.7},{"s":35,"d":"2014-01-01","v":0.72},{"s":35,"d":"2014-01-17","v":0.7},{"s":35,"d":"2014-02-02","v":0.68},{"s":35,"d":"2014-02-18","v":0.5},{"s":35,"d":"2014-03-06","v":0.72},{"s":35,"d":"2014-03-22","v":0.7},{"s":35,"d":"2014-04-07","v":0.68},{"s":35,"d":"2014-04-23","v":0.45},{"s":35,"d":"2014-05-09","v":0.6},{"s":35,"d":"2014-05-25","v":0.55},{"s":35,"d":"2014-06-10","v":0.5},{"s":35,"d":"2014-06-26","v":0.42},{"s":35,"d":"2014-07-12","v":0.38},{"s":35,"d":"2014-07-28","v":0.35},{"s":35,"d":"2014-08-13","v":0.32},{"s":35,"d":"2014-08-29","v":0.32},
{"s":36,"d":"2013-09-14","v":0.47},{"s":36,"d":"2013-09-30","v":0.52},{"s":36,"d":"2013-10-16","v":0.57},{"s":36,"d":"2013-11-01","v":0.65},{"s":36,"d":"2013-11-17","v":0.67},{"s":36,"d":"2013-12-03","v":0.69},{"s":36,"d":"2013-12-19","v":0.72},{"s":36,"d":"2014-01-01","v":0.74},{"s":36,"d":"2014-01-17","v":0.73},{"s":36,"d":"2014-02-02","v":0.72},{"s":36,"d":"2014-02-18","v":0.7},{"s":36,"d":"2014-03-06","v":0.76},{"s":36,"d":"2014-03-22","v":0.74},{"s":36,"d":"2014-04-07","v":0.76},{"s":36,"d":"2014-04-23","v":0.74},{"s":36,"d":"2014-05-09","v":0.72},{"s":36,"d":"2014-05-25","v":0.69},{"s":36,"d":"2014-06-10","v":0.64},{"s":36,"d":"2014-06-26","v":0.57},{"s":36,"d":"2014-07-12","v":0.51},{"s":36,"d":"2014-07-28","v":0.46},{"s":36,"d":"2014-08-13","v":0.42},{"s":36,"d":"2014-08-29","v":0.41},
{"s":37,"d":"2013-09-14","v":0.32},{"s":37,"d":"2013-09-30","v":0.37},{"s":37,"d":"2013-10-16","v":0.43},{"s":37,"d":"2013-11-01","v":0.51},{"s":37,"d":"2013-11-17","v":0.55},{"s":37,"d":"2013-12-03","v":0.57},{"s":37,"d":"2013-12-19","v":0.62},{"s":37,"d":"2014-01-01","v":0.64},{"s":37,"d":"2014-01-17","v":0.63},{"s":37,"d":"2014-02-02","v":0.61},{"s":37,"d":"2014-02-18","v":0.26},{"s":37,"d":"2014-03-06","v":0.65},{"s":37,"d":"2014-03-22","v":0.64},{"s":37,"d":"2014-04-07","v":0.66},{"s":37,"d":"2014-04-23","v":0.64},{"s":37,"d":"2014-05-09","v":0.61},{"s":37,"d":"2014-05-25","v":0.56},{"s":37,"d":"2014-06-10","v":0.5},{"s":37,"d":"2014-06-26","v":0.44},{"s":37,"d":"2014-07-12","v":0.38},{"s":37,"d":"2014-07-28","v":0.35},{"s":37,"d":"2014-08-13","v":0.32},{"s":37,"d":"2014-08-29","v":0.31},
{"s":38,"d":"2013-09-14","v":0.36},{"s":38,"d":"2013-09-30","v":0.4},{"s":38,"d":"2013-10-16","v":0.46},{"s":38,"d":"2013-11-01","v":0.54},{"s":38,"d":"2013-11-17","v":0.58},{"s":38,"d":"2013-12-03","v":0.6},{"s":38,"d":"2013-12-19","v":0.64},{"s":38,"d":"2014-01-01","v":0.66},{"s":38,"d":"2014-01-17","v":0.65},{"s":38,"d":"2014-02-02","v":0.64},{"s":38,"d":"2014-02-18","v":0.59},{"s":38,"d":"2014-03-06","v":0.68},{"s":38,"d":"2014-03-22","v":0.66},{"s":38,"d":"2014-04-07","v":0.68},{"s":38,"d":"2014-04-23","v":0.66},{"s":38,"d":"2014-05-09","v":0.63},{"s":38,"d":"2014-05-25","v":0.59},{"s":38,"d":"2014-06-10","v":0.53},{"s":38,"d":"2014-06-26","v":0.46},{"s":38,"d":"2014-07-12","v":0.41},{"s":38,"d":"2014-07-28","v":0.37},{"s":38,"d":"2014-08-13","v":0.34},{"s":38,"d":"2014-08-29","v":0.34},
{"s":39,"d":"2013-09-14","v":0.42},{"s":39,"d":"2013-09-30","v":0.46},{"s":39,"d":"2013-10-16","v":0.51},{"s":39,"d":"2013-11-01","v":0.59},{"s":39,"d":"2013-11-17","v":0.63},{"s":39,"d":"2013-12-03","v":0.65},{"s":39,"d":"2013-12-19","v":0.69},{"s":39,"d":"2014-01-01","v":0.71},{"s":39,"d":"2014-01-17","v":0.7},{"s":39,"d":"2014-02-02","v":0.69},{"s":39,"d":"2014-02-18","v":0.65},{"s":39,"d":"2014-03-06","v":0.72},{"s":39,"d":"2014-03-22","v":0.7},{"s":39,"d":"2014-04-07","v":0.72},{"s":39,"d":"2014-04-23","v":0.7},{"s":39,"d":"2014-05-09","v":0.67},{"s":39,"d":"2014-05-25","v":0.63},{"s":39,"d":"2014-06-10","v":0.57},{"s":39,"d":"2014-06-26","v":0.5},{"s":39,"d":"2014-07-12","v":0.44},{"s":39,"d":"2014-07-28","v":0.4},{"s":39,"d":"2014-08-13","v":0.37},{"s":39,"d":"2014-08-29","v":0.37},
{"s":40,"d":"2013-09-14","v":0.29},{"s":40,"d":"2013-09-30","v":0.36},{"s":40,"d":"2013-10-16","v":0.44},{"s":40,"d":"2013-11-01","v":0.52},{"s":40,"d":"2013-11-17","v":0.56},{"s":40,"d":"2013-12-03","v":0.58},{"s":40,"d":"2013-12-19","v":0.62},{"s":40,"d":"2014-01-01","v":0.64},{"s":40,"d":"2014-01-17","v":0.1},{"s":40,"d":"2014-02-02","v":0.6},{"s":40,"d":"2014-02-18","v":0.54},{"s":40,"d":"2014-03-06","v":0.66},{"s":40,"d":"2014-03-22","v":0.63},{"s":40,"d":"2014-04-07","v":0.65},{"s":40,"d":"2014-04-23","v":0.63},{"s":40,"d":"2014-05-09","v":0.6},{"s":40,"d":"2014-05-25","v":0.56},{"s":40,"d":"2014-06-10","v":0.51},{"s":40,"d":"2014-06-26","v":0.44},{"s":40,"d":"2014-07-12","v":0.39},{"s":40,"d":"2014-07-28","v":0.35},{"s":40,"d":"2014-08-13","v":0.31},{"s":40,"d":"2014-08-29","v":0.3}
]
},
"encoding": {
  "x": {"field": "d", "type": "temporal", "title": "Index",
    "scale": {"type": "utc", "domain": [{"year": 2013, "month": 8, "date": 27, "hours": 8, "utc": true}, {"year": 2014, "month": 9, "date": 9, "hours": 16, "utc": true}], "nice": false},
    "axis": {"values": [{"year": 2013, "month": 10, "date": 1, "utc": true}, {"year": 2013, "month": 11, "date": 15, "hours": 12, "utc": true}, {"year": 2014, "month": 1, "date": 1, "utc": true}, {"year": 2014, "month": 2, "date": 15, "utc": true}, {"year": 2014, "month": 4, "date": 1, "utc": true}, {"year": 2014, "month": 5, "date": 16, "hours": 12, "utc": true}, {"year": 2014, "month": 7, "date": 1, "utc": true}, {"year": 2014, "month": 8, "date": 15, "hours": 12, "utc": true}],
      "labelExpr": "utcdate(datum.value) != 1 ? '' : ['Jan','Fev','Mar','Abr','Mai','Jun','Jul','Ago','Set','Out','Nov','Dez'][utcmonth(datum.value)] + ' ' + utcyear(datum.value)",
      "labelOverlap": false, "labelFlush": false, "titleX": 432, "titlePadding": 1,
      "tickOpacity": {"condition": {"test": "utcdate(datum.value) != 1", "value": 0}, "value": 1},
      "gridWidth": {"condition": {"test": "utcdate(datum.value) != 1", "value": 0.6}, "value": 1.3}}},
  "y": {"type": "quantitative", "title": "value",
    "scale": {"domain": [-0.0202, 0.9746], "nice": false, "zero": false},
    "axis": {"values": [0, 0.125, 0.25, 0.375, 0.5, 0.625, 0.75, 0.875],
      "labelExpr": "abs(datum.value*4 - round(datum.value*4)) > 0.01 ? '' : format(datum.value, '.2f')",
      "titlePadding": 5, "labelPadding": 3,
      "tickOpacity": {"condition": {"test": "abs(datum.value*4 - round(datum.value*4)) > 0.01", "value": 0}, "value": 1},
      "gridWidth": {"condition": {"test": "abs(datum.value*4 - round(datum.value*4)) > 0.01", "value": 0.6}, "value": 1.3}}}
},
"layer": [
  {"data": {"name": "samples"},
   "mark": {"type": "line", "stroke": "#84A1BA", "strokeWidth": 2.4, "opacity": 0.7, "clip": true},
   "encoding": {"y": {"field": "v"}, "detail": {"field": "s", "type": "nominal"}}},
  {"data": {"name": "stats"},
   "mark": {"type": "line", "stroke": "#D1A02E", "strokeWidth": 2.5, "clip": true},
   "encoding": {"y": {"field": "lo"}}},
  {"data": {"name": "stats"},
   "mark": {"type": "line", "stroke": "#D1A02E", "strokeWidth": 2.5, "clip": true},
   "encoding": {"y": {"field": "hi"}}},
  {"data": {"name": "stats"},
   "mark": {"type": "line", "stroke": "#C8623A", "strokeWidth": 6, "clip": true},
   "encoding": {"y": {"field": "med"}}}
]
}
